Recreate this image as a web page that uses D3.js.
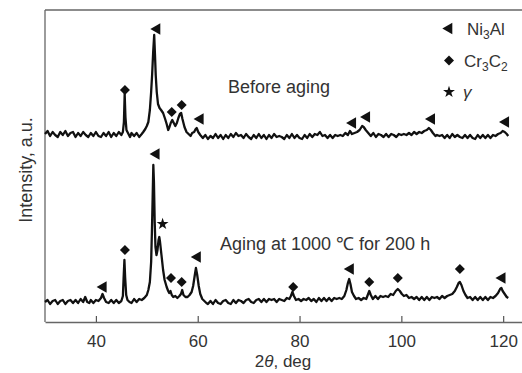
<!DOCTYPE html>
<html>
<head>
<meta charset="utf-8">
<script src="https://cdn.jsdelivr.net/npm/d3@7"></script>
<style>
    body { margin: 0; background: #fff; }
    svg text { font-family: 'Liberation Sans', Arial, sans-serif; fill: #333; }
</style>
</head>
<body>
<svg id="chart" width="522" height="373"></svg>
<script>
// 2theta (deg), intensity (a.u.)
const beforeScan = [
    [30,188],[30.5,191],[31,186],[31.5,190],[32,187],[32.5,185],[33,190],[33.5,187],[34,191],[34.5,186],
    [35,189],[35.5,190],[36,185],[36.5,189],[37,186],[37.5,190],[38,187],[38.5,185],[39,189],[39.5,186],
    [40,190],[40.5,186],[41,185],[41.5,189],[42,186],[42.5,190],[43,185],[43.5,189],[44,186],[44.5,190],
    [45,187],[45.3,190],[45.5,200],[45.65,228],[45.8,205],[46,192],[46.3,189],[46.7,185],[47,189],[47.5,186],
    [48,189],[48.5,185],[49,188],[49.3,190],[49.7,193],[50,196],[50.3,200],[50.6,212],[50.85,230],[51.05,248],
    [51.25,270],[51.45,287],[51.6,268],[51.75,247],[51.95,230],[52.2,218],[52.5,214],[52.8,212],[53.2,209],[53.6,203],
    [53.9,198],[54.2,192],[54.45,195],[54.7,199],[55,202],[55.3,199],[55.6,196],[55.9,199],[56.2,204],[56.5,208],
    [56.75,209],[57,203],[57.4,195],[57.8,190],[58.2,188],[58.6,186],[58.9,189],[59.3,190],[59.6,193],[59.8,194],
    [60.1,190],[60.5,187],[61,184],[61.5,187],[62,183],[62.5,186],[63,184],[63.5,188],[64,184],[64.5,187],
    [65,183],[65.5,187],[66,184],[66.5,188],[67,185],[67.5,189],[68,186],[68.5,187],[69,184],[69.5,188],
    [70,185],[70.5,183],[71,187],[71.5,184],[72,188],[72.5,184],[73,187],[73.5,183],[74,187],[74.5,184],
    [75,188],[75.5,185],[76,186],[76.5,185],[77,183],[77.5,187],[78,184],[78.5,188],[79,184],[79.5,187],
    [80,184],[80.5,183],[81,187],[81.5,184],[82,188],[82.5,185],[83,188],[83.5,187],[84,190],[84.5,186],
    [85,187],[85.5,184],[86,187],[86.5,184],[87,187],[87.5,186],[88,187],[88.5,186],[89,189],[89.5,187],
    [89.9,191],[90.3,188],[90.8,189],[91.3,190],[91.8,192],[92.3,196],[92.6,195],[93,192],[93.5,189],[94,186],
    [94.5,189],[95,185],[95.5,188],[96,187],[96.5,185],[97,188],[97.5,185],[98,188],[98.5,187],[99,185],
    [99.5,188],[100,187],[100.5,188],[101,187],[101.5,189],[102,187],[102.5,190],[103,188],[103.5,190],[104,189],
    [104.5,191],[105,192],[105.4,194],[105.8,192],[106.2,189],[106.7,186],[107,187],[107.5,186],[108,187],[108.5,184],
    [109,187],[109.5,184],[110,188],[110.5,185],[111,187],[111.5,185],[112,184],[112.5,187],[113,184],[113.5,187],
    [114,184],[114.5,183],[115,187],[115.5,184],[116,187],[116.5,184],[117,187],[117.5,184],[118,187],[118.5,186],
    [119,188],[119.5,189],[119.9,191],[120.3,190],[120.7,188],[121,186]
];

const agedScan = [
    [30,20],[30.5,22],[31,18],[31.5,21],[32,22],[32.5,18],[33,21],[33.5,22],[34,18],[34.5,21],
    [35,22],[35.5,19],[36,22],[36.5,19],[37,23],[37.5,20],[37.9,25],[38.3,20],[38.7,19],[39,22],
    [39.5,19],[40,22],[40.5,21],[41,24],[41.3,28],[41.6,24],[42,20],[42.5,19],[43,22],[43.5,19],
    [44,22],[44.5,19],[45,21],[45.3,26],[45.45,45],[45.6,62],[45.75,44],[45.95,27],[46.2,22],[46.6,20],
    [47,19],[47.5,23],[48,20],[48.5,23],[49,22],[49.5,24],[50,27],[50.3,32],[50.6,40],[50.85,60],
    [51,90],[51.15,125],[51.28,157],[51.4,140],[51.55,100],[51.7,75],[51.9,67],[52.1,72],[52.3,82],[52.45,85],
    [52.6,80],[52.9,66],[53.2,52],[53.5,42],[53.9,35],[54.2,31],[54.4,29],[54.65,31],[54.9,27],[55.2,25],
    [55.6,26],[56,24],[56.4,26],[56.7,28],[56.95,32],[57.2,27],[57.6,25],[58,25],[58.4,27],[58.8,30],
    [59.1,36],[59.4,46],[59.65,54],[59.9,47],[60.2,36],[60.5,28],[60.9,23],[61.3,21],[61.7,19],[62,18],
    [62.5,21],[63,18],[63.5,22],[64,19],[64.5,18],[65,21],[65.5,22],[66,19],[66.5,18],[67,22],
    [67.5,19],[68,22],[68.5,21],[69,19],[69.5,22],[70,23],[70.5,20],[71,19],[71.5,22],[72,23],
    [72.5,20],[73,23],[73.5,20],[74,23],[74.5,22],[75,23],[75.5,20],[76,23],[76.5,22],[77,21],
    [77.5,24],[78,23],[78.3,26],[78.6,30],[78.9,26],[79.3,22],[79.8,23],[80.3,21],[80.8,23],[81.3,22],
    [81.8,24],[82.3,21],[82.8,23],[83.3,20],[83.8,24],[84.3,21],[84.8,24],[85.3,21],[85.8,24],[86.3,21],
    [86.8,24],[87.3,23],[87.8,24],[88.3,23],[88.8,26],[89.2,32],[89.5,39],[89.75,43],[90,38],[90.3,30],
    [90.7,26],[91.1,23],[91.6,24],[92.1,22],[92.6,24],[93.1,23],[93.4,27],[93.7,31],[94,27],[94.4,23],
    [94.9,26],[95.4,23],[95.9,26],[96.4,25],[96.9,26],[97.4,25],[97.9,28],[98.4,27],[98.9,31],[99.3,33],
    [99.7,31],[100.1,28],[100.5,26],[101,27],[101.5,24],[102,25],[102.5,23],[103,25],[103.5,22],[104,25],
    [104.5,22],[105,25],[105.5,22],[106,25],[106.5,24],[107,25],[107.5,23],[108,26],[108.5,24],[109,26],
    [109.5,27],[110,28],[110.5,31],[110.9,35],[111.25,39],[111.5,40],[111.8,37],[112.2,31],[112.6,27],[113,24],
    [113.5,25],[114,22],[114.5,25],[115,22],[115.5,25],[116,22],[116.5,25],[117,22],[117.5,25],[118,24],
    [118.5,26],[119,29],[119.4,33],[119.65,34],[119.9,31],[120.3,28],[120.7,25],[121,24]
];

// phase marks: [2theta, intensity, phase]
const beforeMarks = [
    [45.7,232,'carbide'],[52.0,293,'ni3al'],[54.9,210,'carbide'],[56.85,217,'carbide'],[60.5,203,'ni3al'],
    [90.45,199,'ni3al'],[93.2,205,'ni3al'],[105.95,203,'ni3al'],[120.5,200,'ni3al']
];
const agedMarks = [
    [41.45,35,'ni3al'],[45.7,72,'carbide'],[51.85,168,'ni3al'],[53.1,98,'gamma'],[54.75,44,'carbide'],
    [56.85,40,'carbide'],[59.95,65,'ni3al'],[78.75,35,'carbide'],[90.0,53,'ni3al'],[93.7,40,'carbide'],
    [99.3,44,'carbide'],[111.5,53,'carbide'],[119.8,44,'ni3al']
];

const xTicks = [40, 60, 80, 100, 120];

const width = 522, height = 373;
const margin = { top: 10, right: 0, bottom: 51, left: 45 };

const svg = d3.select('#chart');

const x = d3.scaleLinear()
    .domain([30, 123.7])
    .range([margin.left, width - margin.right]);
const y = d3.scaleLinear()
    .domain([0, 312])
    .range([height - margin.bottom, margin.top]);

const symbols = {
    ni3al: { type: d3.symbolTriangle, size: 58, rotate: -90 },
    carbide: { type: d3.symbolSquare, size: 50, rotate: 45 },
    gamma: { type: d3.symbolStar, size: 44, rotate: 0 }
};

function markPath(kind) {
    return d3.symbol().type(symbols[kind].type).size(symbols[kind].size)();
}

// frame: left and top lines
svg.append('line')
    .attr('x1', margin.left).attr('x2', margin.left)
    .attr('y1', margin.top).attr('y2', height - margin.bottom)
    .attr('stroke', '#666').attr('stroke-width', 1.3);
svg.append('line')
    .attr('x1', margin.left).attr('x2', width)
    .attr('y1', margin.top).attr('y2', margin.top)
    .attr('stroke', '#666').attr('stroke-width', 1.3);

// x axis with inward ticks
const xAxis = svg.append('g')
    .attr('class', 'x-axis')
    .attr('transform', `translate(0, ${height - margin.bottom})`)
    .call(d3.axisBottom(x)
        .tickValues(xTicks)
        .tickSizeInner(-6)
        .tickSizeOuter(0)
        .tickPadding(13));
xAxis.select('.domain').attr('stroke', '#666').attr('stroke-width', 1.3);
xAxis.selectAll('.tick line').attr('stroke', '#555').attr('stroke-width', 1.2);
xAxis.selectAll('.tick text')
    .attr('font-size', 17)
    .attr('font-family', "'Liberation Sans', Arial, sans-serif")
    .attr('fill', '#333');

// scans
const line = d3.line()
    .x(d => x(d[0]))
    .y(d => y(d[1]));

[beforeScan, agedScan].forEach(scan => {
    svg.append('path')
        .datum(scan)
        .attr('fill', 'none')
        .attr('stroke', '#111')
        .attr('stroke-width', 2.3)
        .attr('stroke-linejoin', 'round')
        .attr('d', line);
});

// phase markers
svg.append('g')
    .selectAll('path')
    .data(beforeMarks.concat(agedMarks))
    .join('path')
    .attr('d', d => markPath(d[2]))
    .attr('transform', d => `translate(${x(d[0])}, ${y(d[1])}) rotate(${symbols[d[2]].rotate})`)
    .attr('fill', '#111');

// annotations
svg.append('text')
    .attr('x', 228).attr('y', 93)
    .attr('font-size', 18)
    .text('Before aging');
svg.append('text')
    .attr('x', 220).attr('y', 250)
    .attr('font-size', 18)
    .text('Aging at 1000 ℃ for 200 h');

// legend
const legend = svg.append('g').attr('class', 'legend');
const legendItems = [
    { kind: 'ni3al', y: 28.5, tx: 467, parts: [['Ni', false], ['3', true], ['Al', false]] },
    { kind: 'carbide', y: 60.5, tx: 464, parts: [['Cr', false], ['3', true], ['C', false], ['2', true]] },
    { kind: 'gamma', y: 92, tx: 463, parts: [['γ', false]] }
];
legendItems.forEach(item => {
    legend.append('path')
        .attr('d', markPath(item.kind))
        .attr('transform', `translate(449, ${item.y}) rotate(${symbols[item.kind].rotate})`)
        .attr('fill', '#111');
    const t = legend.append('text')
        .attr('x', item.tx)
        .attr('y', item.y + 6)
        .attr('font-size', 17);
    if (item.kind === 'gamma') t.attr('font-style', 'italic');
    let shifted = false;
    item.parts.forEach(p => {
        const ts = t.append('tspan').text(p[0]);
        if (p[1] && !shifted) { ts.attr('dy', 4).attr('font-size', 12); shifted = true; }
        else if (p[1]) { ts.attr('font-size', 12); }
        else if (shifted) { ts.attr('dy', -4); shifted = false; }
    });
});

// axis titles
const xTitle = svg.append('text')
    .attr('x', 283).attr('y', 367)
    .attr('text-anchor', 'middle')
    .attr('font-size', 17);
xTitle.append('tspan').text('2');
xTitle.append('tspan').attr('font-style', 'italic').text('θ');
xTitle.append('tspan').text(', deg');

svg.append('text')
    .attr('transform', 'translate(32, 170) rotate(-90)')
    .attr('text-anchor', 'middle')
    .attr('font-size', 18)
    .attr('fill', '#444')
    .text('Intensity, a.u.');
</script>
</body>
</html>
